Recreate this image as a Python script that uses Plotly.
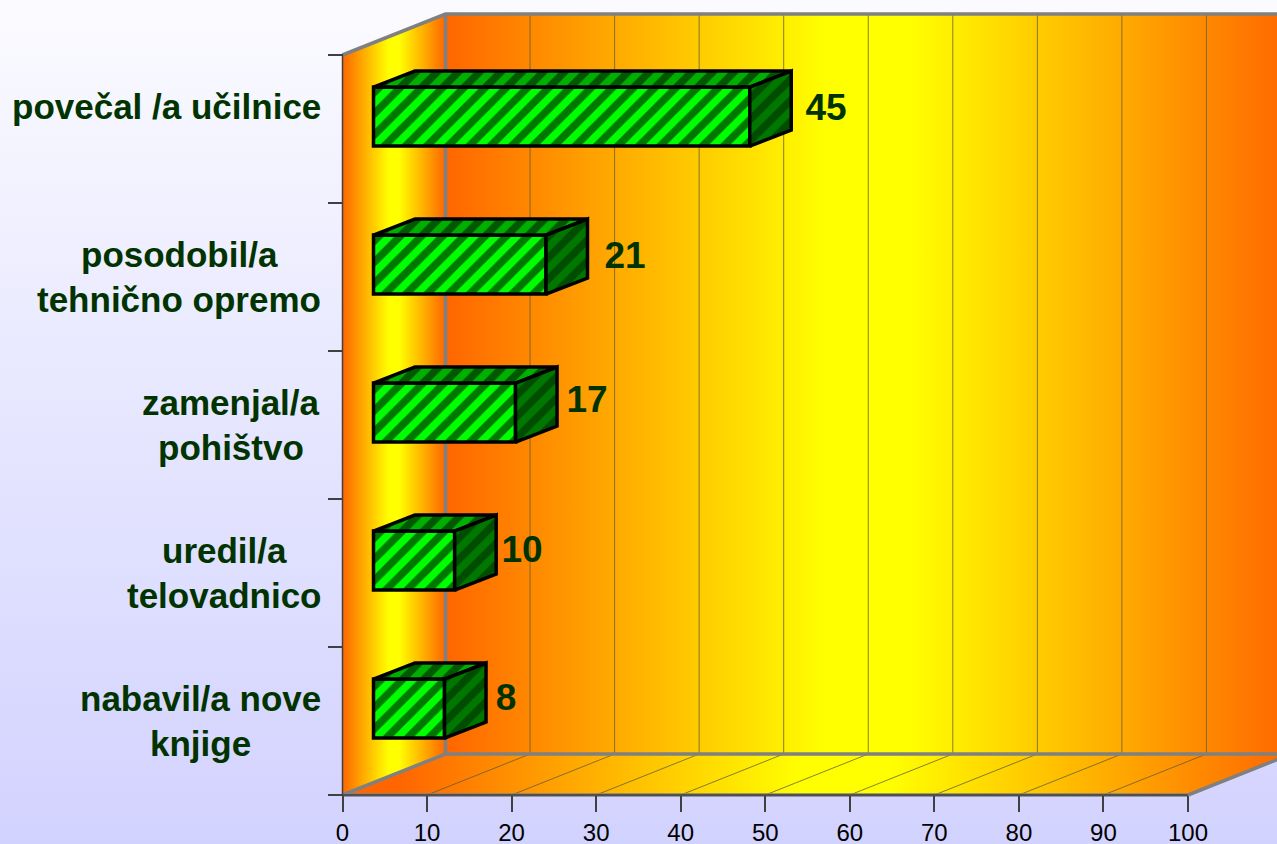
import plotly.graph_objects as go

WIDTH, HEIGHT = 1277, 844
X0_PX, X100_PX = 342.5, 1188.0
Y0_PX, ROW_PX = 795.0, 148.0
PX_PER_X = (X100_PX - X0_PX) / 100

label_lines = [
    ["nabavil/a nove", "knjige"],
    ["uredil/a", "telovadnico"],
    ["zamenjal/a", "pohištvo"],
    ["posodobil/a", "tehnično opremo"],
    ["povečal /a učilnice", ""],
]
label_centers_px = [200.5, 224, 231.5, 179, 166.5]
bar_lengths = [8.4, 9.6, 16.8, 20.4, 44.5]
value_labels = ["8", "10", "17", "21", "45"]
value_centers_px = [506, 522, 587, 625, 826]
value_middles_px = [701, 553, 403, 259, 111]
x_ticks = [0, 10, 20, 30, 40, 50, 60, 70, 80, 90, 100]
row_ticks = [0, 1, 2, 3, 4, 5]


def xv(px):
    return (px - X0_PX) / PX_PER_X


def yv(py):
    return (Y0_PX - py) / ROW_PX


DX = 103 / PX_PER_X
DY = 41 / ROW_PX
BAR_DX0 = 31 / PX_PER_X
BAR_DY0 = 12.4 / ROW_PX
BAR_DX = 41.5 / PX_PER_X
BAR_DY = 16 / ROW_PX
BAR_W = 59 / ROW_PX
XR = [xv(0), xv(WIDTH)]
YR = [yv(HEIGHT), yv(0)]
TOP = 5.0

O = "#ff6600"
Y = "#ffff00"
wall_scale = [[0, O], [0.45, Y], [0.55, Y], [1, O]]

fig = go.Figure()


def poly(xs, ys, **kw):
    fig.add_trace(go.Scatter(x=xs, y=ys, mode="lines", fill="toself", line=dict(width=0),
                             hoverinfo="skip", showlegend=False, **kw))


poly([XR[0], XR[1], XR[1], XR[0]], [YR[0], YR[0], YR[1], YR[1]],
     fillgradient=dict(type="vertical", start=YR[0], stop=YR[1],
                       colorscale=[[0, "#d2d2ff"], [0.5, "#e6e6ff"], [1, "#fbfbff"]]))
poly([DX, 100 + DX, 100 + DX, DX], [DY, DY, TOP + DY, TOP + DY],
     fillgradient=dict(type="horizontal", start=DX, stop=100 + DX, colorscale=wall_scale))
poly([0, DX, DX, 0], [0, DY, TOP + DY, TOP],
     fillgradient=dict(type="horizontal", start=0, stop=DX, colorscale=wall_scale))
poly([0, 100, 100 + DX, DX], [0, 0, DY, DY],
     fillgradient=dict(type="horizontal", start=xv(400), stop=100 + DX, colorscale=wall_scale))

gx, gy, fx, fy = [], [], [], []
for t in x_ticks[1:]:
    gx += [t + DX, t + DX, None]
    gy += [DY, TOP + DY, None]
    if t < 100:
        fx += [t, t + DX, None]
        fy += [0, DY, None]
fig.add_trace(go.Scatter(x=gx + fx, y=gy + fy, mode="lines", hoverinfo="skip", showlegend=False,
                         line=dict(color="rgba(90,90,60,0.75)", width=1)))
# thick grey wall frame
fig.add_trace(go.Scatter(
    x=[0, DX, XR[1], None, DX, DX, None, 0, DX, XR[1], None, 100, 100 + DX, None, 0, 100],
    y=[TOP, TOP + DY, TOP + DY, None, TOP + DY, DY, None, 0, DY, DY, None, 0, DY, None, 0, 0],
    mode="lines", hoverinfo="skip", showlegend=False, line=dict(color="#808080", width=3.5)))
# dark axis lines
fig.add_trace(go.Scatter(x=[0, 0, 100], y=[TOP, 0, 0], mode="lines", hoverinfo="skip",
                         showlegend=False, line=dict(color="#404040", width=1.5)))

centres = [i + 0.5 + BAR_DY0 for i in range(5)]
tops_x, tops_y, sides_x, sides_y = [], [], [], []
for c, v in zip(centres, bar_lengths):
    x1 = BAR_DX0 + v
    lo, hi = c - BAR_W / 2, c + BAR_W / 2
    tops_x += [BAR_DX0, x1, x1 + BAR_DX, BAR_DX0 + BAR_DX, BAR_DX0, None]
    tops_y += [hi, hi, hi + BAR_DY, hi + BAR_DY, hi, None]
    sides_x += [x1, x1 + BAR_DX, x1 + BAR_DX, x1, x1, None]
    sides_y += [lo, lo + BAR_DY, hi + BAR_DY, hi, lo, None]

edge = dict(color="#000000", width=3.5)
fig.add_trace(go.Bar(x=bar_lengths, y=centres, base=BAR_DX0, orientation="h", width=BAR_W,
                     xaxis="x2", yaxis="y2", showlegend=False, hoverinfo="skip",
                     marker=dict(color="#00ff00", line=edge,
                                 pattern=dict(shape="/", size=15, solidity=0.5,
                                              fgcolor="#007800", bgcolor="#00ff00",
                                              fillmode="replace"))))
fig.add_trace(go.Scatter(x=tops_x, y=tops_y, mode="lines", fill="toself", line=edge, xaxis="x2", yaxis="y2",
                         hoverinfo="skip", showlegend=False,
                         fillpattern=dict(shape="/", size=15, solidity=0.5, fgcolor="#005800",
                                          bgcolor="#00b000", fillmode="replace")))
fig.add_trace(go.Scatter(x=sides_x, y=sides_y, mode="lines", fill="toself", line=edge, xaxis="x2", yaxis="y2",
                         hoverinfo="skip", showlegend=False,
                         fillpattern=dict(shape="/", size=15, solidity=0.5, fgcolor="#004c00",
                                          bgcolor="#007800", fillmode="replace")))
fig.add_trace(go.Scatter(x=[xv(p) for p in value_centers_px], y=[yv(p) for p in value_middles_px],
                         text=value_labels, mode="text", xaxis="x2", yaxis="y2",
                         hoverinfo="skip", showlegend=False, textposition="middle center",
                         textfont=dict(family="Liberation Sans", size=37, color="#003300",
                                       weight="bold")))

annotations = []
for i, (lines, cx) in enumerate(zip(label_lines, label_centers_px)):
    for j, line in enumerate(lines):
        if line:
            annotations.append(dict(
                x=cx / WIDTH, xref="paper", y=yv(Y0_PX - ROW_PX * (i + 0.5)) + (0.155 if j == 0 else -0.155),
                yref="y", text=f"<b>{line}</b>", showarrow=False, xanchor="center", yanchor="middle",
                font=dict(family="Liberation Sans", size=35, color="#003300")))

fig.update_layout(
    width=WIDTH, height=HEIGHT + 2, margin=dict(l=0, r=0, t=0, b=0, pad=0), autosize=False,
    paper_bgcolor="#d2d2ff", plot_bgcolor="rgba(0,0,0,0)", showlegend=False, barmode="overlay",
    annotations=annotations,
    xaxis=dict(range=XR, anchor="free", position=(HEIGHT - Y0_PX) / HEIGHT, showgrid=False, zeroline=False,
               showline=False, tickvals=x_ticks, ticktext=[str(t) for t in x_ticks], ticks="outside",
               ticklen=16, tickwidth=1.5, tickcolor="#404040",
               tickfont=dict(family="Liberation Sans", size=24, color="#000000")),
    yaxis=dict(range=YR, anchor="free", position=X0_PX / WIDTH, showgrid=False, zeroline=False,
               showline=False, tickvals=row_ticks, showticklabels=False, ticks="outside",
               ticklen=15, tickwidth=1.5, tickcolor="#404040"),
    xaxis2=dict(range=XR, overlaying="x", visible=False),
    yaxis2=dict(range=YR, overlaying="y", visible=False),
)
fig.write_html("out.html", config={"displayModeBar": False},
               post_script="document.body.style.margin='0';document.body.style.overflow='hidden';")
